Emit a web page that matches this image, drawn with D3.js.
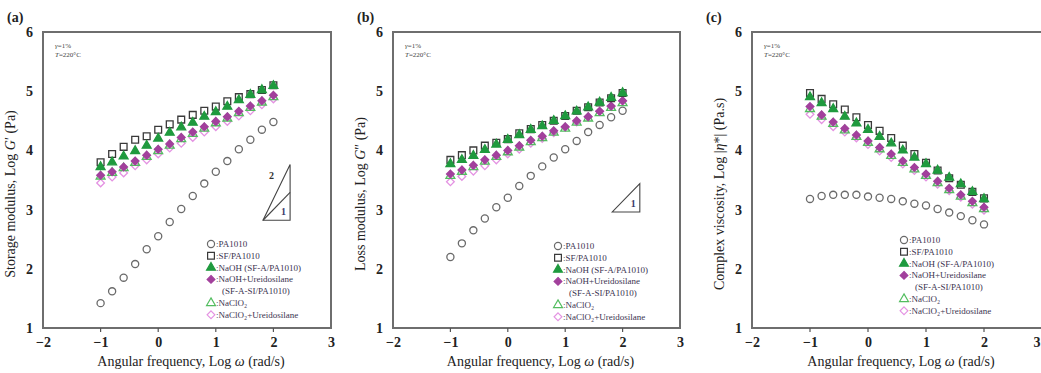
<!DOCTYPE html>
<html>
<head>
<meta charset="utf-8">
<script src="https://cdnjs.cloudflare.com/ajax/libs/d3/7.8.5/d3.min.js"></script>
<style>
  body { margin: 0; background: #fff; }
  text { font-family: "Liberation Serif", "Times New Roman", serif; }
</style>
</head>
<body>
<div id="chart"></div>
<script>
// log angular frequency (rad/s)
var logOmega = [-1, -0.8, -0.6, -0.4, -0.2, 0, 0.2, 0.4, 0.6, 0.8, 1.0, 1.2, 1.4, 1.6, 1.8, 2.0];

var xTicks = [-2, -1, 0, 1, 2, 3];
var yTicks = [1, 2, 3, 4, 5, 6];

var seriesNames = ["PA1010", "SF/PA1010", "NaOH (SF-A/PA1010)", "NaOH+Ureidosilane",
                   "NaClO\u2082", "NaClO\u2082+Ureidosilane"];

// (a) storage modulus, log G'
var gp_PA    = [1.42, 1.62, 1.85, 2.08, 2.33, 2.55, 2.79, 3.01, 3.23, 3.44, 3.64, 3.82, 4.02, 4.18, 4.35, 4.48];
var gp_SF    = [3.80, 3.94, 4.06, 4.18, 4.24, 4.35, 4.44, 4.52, 4.60, 4.67, 4.74, 4.83, 4.90, 4.95, 5.02, 5.10];
var gp_NaOH  = [3.72, 3.80, 3.90, 3.99, 4.08, 4.20, 4.30, 4.39, 4.47, 4.57, 4.65, 4.74, 4.85, 4.94, 5.02, 5.09];
var gp_NaOHU = [3.58, 3.64, 3.72, 3.82, 3.92, 4.02, 4.11, 4.22, 4.31, 4.40, 4.49, 4.57, 4.66, 4.75, 4.84, 4.93];
var gp_ClO   = [3.56, 3.62, 3.70, 3.79, 3.89, 3.99, 4.08, 4.19, 4.28, 4.37, 4.46, 4.54, 4.63, 4.72, 4.81, 4.90];
var gp_ClOU  = [3.45, 3.55, 3.62, 3.74, 3.84, 3.94, 4.04, 4.12, 4.22, 4.31, 4.40, 4.49, 4.58, 4.67, 4.77, 4.87];

// (b) loss modulus, log G''
var gpp_PA    = [2.20, 2.43, 2.65, 2.85, 3.04, 3.20, 3.40, 3.57, 3.73, 3.88, 4.02, 4.16, 4.31, 4.43, 4.56, 4.67];
var gpp_SF    = [3.84, 3.92, 4.00, 4.08, 4.13, 4.19, 4.29, 4.36, 4.43, 4.50, 4.58, 4.67, 4.73, 4.81, 4.88, 4.97];
var gpp_NaOH  = [3.77, 3.84, 3.91, 4.01, 4.10, 4.18, 4.26, 4.35, 4.41, 4.50, 4.58, 4.66, 4.73, 4.81, 4.89, 4.97];
var gpp_NaOHU = [3.60, 3.67, 3.75, 3.84, 3.92, 4.00, 4.08, 4.17, 4.24, 4.33, 4.40, 4.50, 4.57, 4.66, 4.75, 4.84];
var gpp_ClO   = [3.57, 3.64, 3.72, 3.81, 3.89, 3.97, 4.05, 4.14, 4.21, 4.30, 4.37, 4.47, 4.54, 4.63, 4.72, 4.80];
var gpp_ClOU  = [3.47, 3.56, 3.65, 3.74, 3.84, 3.94, 4.02, 4.12, 4.20, 4.30, 4.39, 4.48, 4.57, 4.66, 4.74, 4.83];

// (c) complex viscosity, log |eta*|
var eta_PA    = [3.18, 3.23, 3.25, 3.25, 3.25, 3.22, 3.20, 3.18, 3.14, 3.10, 3.07, 3.01, 2.95, 2.89, 2.82, 2.75];
var eta_SF    = [4.97, 4.87, 4.78, 4.69, 4.56, 4.43, 4.33, 4.21, 4.08, 3.94, 3.79, 3.66, 3.53, 3.42, 3.30, 3.19];
var eta_NaOH  = [4.90, 4.80, 4.70, 4.57, 4.46, 4.35, 4.23, 4.12, 4.00, 3.88, 3.77, 3.66, 3.54, 3.43, 3.30, 3.18];
var eta_NaOHU = [4.74, 4.60, 4.48, 4.37, 4.26, 4.16, 4.05, 3.94, 3.82, 3.71, 3.60, 3.48, 3.36, 3.25, 3.14, 3.04];
var eta_ClO   = [4.70, 4.57, 4.45, 4.34, 4.23, 4.13, 4.02, 3.91, 3.79, 3.68, 3.57, 3.45, 3.33, 3.22, 3.11, 3.01];
var eta_ClOU  = [4.61, 4.52, 4.40, 4.31, 4.21, 4.10, 3.99, 3.88, 3.77, 3.66, 3.55, 3.43, 3.32, 3.21, 3.09, 2.99];

var width = 1041, height = 373;
var svg = d3.select("#chart").append("svg")
    .attr("width", width)
    .attr("height", height);

// marker styles per series index
var styles = [
  { type: d3.symbolCircle,   size: 40, fill: "none",    stroke: "#6a6a6a" },
  { type: d3.symbolSquare,   size: 46, fill: "none",    stroke: "#3a3a3a" },
  { type: d3.symbolTriangle, size: 34, fill: "#1f9a3e", stroke: "#1f9a3e" },
  { type: d3.symbolDiamond2, size: 38, fill: "#a2409c", stroke: "#a2409c" },
  { type: d3.symbolTriangle, size: 34, fill: "none",    stroke: "#52bd5f" },
  { type: d3.symbolDiamond2, size: 38, fill: "none",    stroke: "#e492e2" }
];
// drawing order so filled marks sit on top like the original
var drawOrder = [0, 5, 4, 3, 1, 2];

function drawPanel(p) {
  var x = d3.scaleLinear().domain([-2, 3]).range([p.left, p.right]);
  var y = d3.scaleLinear().domain([1, 6]).range([328, 32]);
  var g = svg.append("g");

  // frame: a grey filled box with a white inner box
  var fx0 = x(-2), fx1 = x(3), fy0 = y(6), fy1 = y(1);
  g.append("rect")
      .attr("x", fx0 - 1).attr("y", fy0 - 1)
      .attr("width", fx1 - fx0 + 2).attr("height", fy1 - fy0 + 2)
      .attr("fill", "#6e6e6e");
  g.append("rect")
      .attr("x", fx0 + 1).attr("y", fy0 + 1)
      .attr("width", fx1 - fx0 - 2).attr("height", fy1 - fy0 - 2)
      .attr("fill", "#ffffff");

  var xAxis = g.append("g")
      .attr("transform", "translate(0," + fy1 + ")")
      .call(d3.axisBottom(x).tickValues(xTicks).tickSize(0).tickPadding(9)
            .tickFormat(d3.format("d")));
  var yAxis = g.append("g")
      .attr("transform", "translate(" + fx0 + ",0)")
      .call(d3.axisLeft(y).tickValues(yTicks).tickSize(0).tickPadding(10)
            .tickFormat(d3.format("d")));
  [xAxis, yAxis].forEach(function(a) {
    a.select(".domain").remove();
    a.selectAll("text")
        .attr("font-family", "Liberation Serif, serif")
        .attr("font-size", 14).attr("font-weight", "bold").attr("fill", "#222");
  });
  // small tick marks under the bottom edge
  g.selectAll("rect.xtick")
      .data(xTicks.slice(1, -1))
      .enter().append("rect")
      .attr("class", "xtick")
      .attr("x", function(d) { return x(d) - 0.6; }).attr("y", fy1)
      .attr("width", 1.2).attr("height", 4)
      .attr("fill", "#555");
  // last x label of the clipped panel kept inside the picture
  if (p.right > width - 5) {
    xAxis.selectAll(".tick").filter(function(d) { return d === 3; })
        .select("text").attr("text-anchor", "end").attr("dx", width - 1 - p.right);
  }

  // panel label
  g.append("text").attr("x", p.labelX).attr("y", 22)
      .attr("font-size", 14).attr("font-weight", "bold").attr("fill", "#222")
      .text(p.label);

  // axis titles
  g.append("text")
      .attr("x", (fx0 + fx1) / 2 + 4).attr("y", 366)
      .attr("text-anchor", "middle").attr("font-size", 14).attr("fill", "#222")
      .html("Angular frequency, Log <tspan font-style='italic'>\u03c9</tspan> (rad/s)");
  g.append("text")
      .attr("transform", "translate(" + (fx0 - 28) + ",194) rotate(-90)")
      .attr("text-anchor", "middle").attr("font-size", 14).attr("fill", "#222")
      .html(p.yTitle);

  // test conditions
  g.append("text").attr("x", fx0 + 12).attr("y", 48)
      .attr("font-size", 7).attr("fill", "#444")
      .html("<tspan font-style='italic'>\u03b3</tspan>=1%");
  g.append("text").attr("x", fx0 + 12).attr("y", 57)
      .attr("font-size", 7).attr("fill", "#444")
      .html("<tspan font-style='italic'>T</tspan>=220\u00b0C");

  // slope triangle
  if (p.slope) {
    var s = p.slope;
    var x0 = x(s.x0), x1 = x(s.x1), yb = y(s.y0);
    var yTop = y(s.y0 + s.top * (s.x1 - s.x0));
    g.append("path")
        .attr("d", "M" + x0 + "," + yb + "L" + x1 + "," + yb + "L" + x1 + "," + yTop + "Z")
        .attr("fill", "none").attr("stroke", "#444").attr("stroke-width", 1.1);
    if (s.inner) {
      var yIn = y(s.y0 + s.inner * (s.x1 - s.x0));
      g.append("line").attr("x1", x0).attr("y1", yb).attr("x2", x1).attr("y2", yIn)
          .attr("stroke", "#444").attr("stroke-width", 1.1);
      g.append("text").attr("x", x0 + 6).attr("y", y(s.y0 + 0.7)).attr("font-size", 10)
          .attr("font-weight", "bold").attr("fill", "#333").text("2");
    }
    g.append("text").attr("x", x1 - 9).attr("y", yb - 5).attr("font-size", 10)
        .attr("font-weight", "bold").attr("fill", "#3a3a6a").text("1");
  }

  // data marks
  drawOrder.forEach(function(i) {
    var st = styles[i];
    var sym = d3.symbol().type(st.type).size(st.size);
    g.append("g").selectAll("path")
        .data(p.series[i])
        .enter().append("path")
        .attr("transform", function(d, k) { return "translate(" + x(logOmega[k]) + "," + y(d) + ")"; })
        .attr("d", sym)
        .attr("fill", st.fill).attr("stroke", st.stroke).attr("stroke-width", 1.3);
  });

  // legend
  var rows = [
    { s: 0, t: ":" + seriesNames[0] },
    { s: 1, t: ":" + seriesNames[1] },
    { s: 2, t: ":" + seriesNames[2] },
    { s: 3, t: ":" + seriesNames[3] },
    { s: -1, t: "(SF-A-SI/PA1010)" },
    { s: 4, t: ":" + seriesNames[4] },
    { s: 5, t: ":" + seriesNames[5] }
  ];
  var lg = g.append("g").attr("transform", "translate(" + p.legX + "," + p.legY + ")");
  rows.forEach(function(r, k) {
    var yy = k * 11.8;
    if (r.s >= 0) {
      var st = styles[r.s];
      lg.append("path")
          .attr("transform", "translate(0," + yy + ")")
          .attr("d", d3.symbol().type(st.type).size(st.size))
          .attr("fill", st.fill).attr("stroke", st.stroke).attr("stroke-width", 1.2);
    }
    lg.append("text").attr("x", r.s >= 0 ? 5 : 11).attr("y", yy + 3)
        .attr("font-size", 9).attr("fill", "#3b3350").text(r.t);
  });
}

drawPanel({
  label: "(a)", labelX: 7, left: 43, right: 331,
  yTitle: "Storage modulus, Log <tspan font-style='italic'>G</tspan>\u2032 (Pa)",
  series: [gp_PA, gp_SF, gp_NaOH, gp_NaOHU, gp_ClO, gp_ClOU],
  slope: { x0: 1.82, x1: 2.29, y0: 2.82, top: 2, inner: 1 },
  legX: 211, legY: 244
});
drawPanel({
  label: "(b)", labelX: 357, left: 393, right: 680,
  yTitle: "Loss modulus, Log <tspan font-style='italic'>G</tspan>\u2033 (Pa)",
  series: [gpp_PA, gpp_SF, gpp_NaOH, gpp_NaOHU, gpp_ClO, gpp_ClOU],
  slope: { x0: 1.82, x1: 2.3, y0: 2.96, top: 1 },
  legX: 558, legY: 246
});
drawPanel({
  label: "(c)", labelX: 706, left: 752, right: 1042,
  yTitle: "Complex viscosity, Log |<tspan font-style='italic'>\u03b7</tspan>*| (Pa.s)",
  series: [eta_PA, eta_SF, eta_NaOH, eta_NaOHU, eta_ClO, eta_ClOU],
  legX: 904, legY: 240
});
</script>
</body>
</html>
